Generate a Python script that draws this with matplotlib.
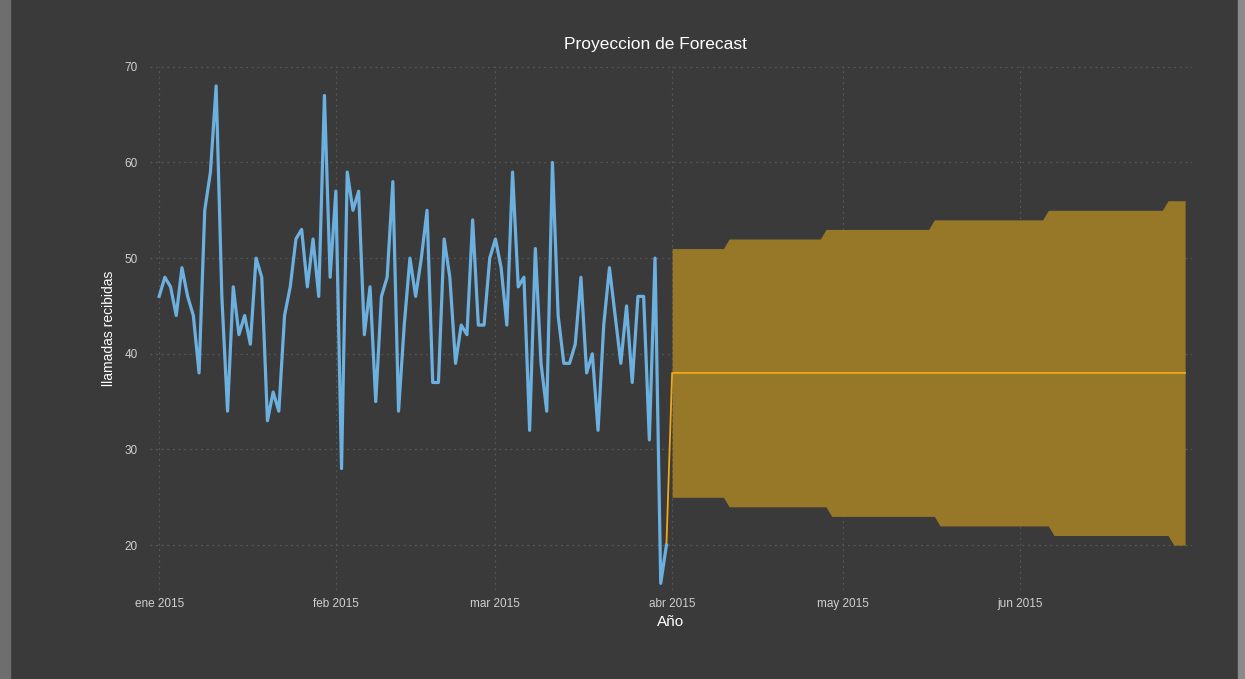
import numpy as np
import pandas as pd
import matplotlib
matplotlib.use("Agg")
import matplotlib.pyplot as plt
from matplotlib.patches import Rectangle

# observed daily calls, 1 Jan - 31 Mar 2015
llamadas = [46, 48, 47, 44, 49, 46, 44, 38, 55, 59, 68, 46, 34, 47, 42, 44, 41, 50, 48, 33,
            36, 34, 44, 47, 52, 53, 47, 52, 46, 67, 48,
            57, 28, 59, 55, 57, 42, 47, 35, 46, 48, 58, 34, 43, 50, 46, 50, 55, 37, 37, 52,
            48, 39, 43, 42, 54, 43, 43, 50,
            52, 49, 43, 59, 47, 48, 32, 51, 39, 34, 60, 44, 39, 39, 41, 48, 38, 40, 32, 43,
            49, 44, 39, 45, 37, 46, 46, 31, 50, 16, 20]

# forecast 1 Apr - 30 Jun 2015 (constant mean + interval steps)
forecast_val = 38
upper_steps = [(51, 10), (52, 17), (53, 19), (54, 20), (55, 21), (56, 4)]
lower_steps = [(25, 10), (24, 18), (23, 19), (22, 20), (21, 21), (20, 3)]

fechas = pd.date_range("2015-01-01", periods=len(llamadas), freq="D")
fechas_fc = pd.date_range("2015-04-01", "2015-06-30", freq="D")
upper = np.concatenate([[v] * n for v, n in upper_steps])
lower = np.concatenate([[v] * n for v, n in lower_steps])

bg = "#3a3a3a"
plt.rcParams["font.family"] = ["Liberation Sans", "DejaVu Sans"]

fig = plt.figure(figsize=(12.45, 6.79), dpi=100, facecolor=bg)
ax = fig.add_axes([0.1205, 0.131, 0.8369, 0.772])
ax.set_facecolor(bg)

# light frame strips on the sides
fig.patches.append(Rectangle((0, 0), 10 / 1245, 1, transform=fig.transFigure,
                             color="#6e6e6e", zorder=0))
fig.patches.append(Rectangle((1 - 7 / 1245, 0), 7 / 1245, 1, transform=fig.transFigure,
                             color="#8a8a8a", zorder=0))

ax.fill_between(fechas_fc, lower, upper, color="#977828", linewidth=0, zorder=2)
fc_x = [fechas[-1]] + list(fechas_fc)
fc_y = [llamadas[-1]] + [forecast_val] * len(fechas_fc)
ax.plot(fc_x, fc_y, color="#f0a818", linewidth=1.3, zorder=3)
ax.plot(fechas, llamadas, color="#6cb0e0", linewidth=2.3, zorder=4)

ax.set_xlim(pd.Timestamp("2015-01-01") - pd.Timedelta(days=1.6),
            pd.Timestamp("2015-06-30") + pd.Timedelta(days=1.2))
ax.set_ylim(15.3, 70.1)
ax.set_yticks([20, 30, 40, 50, 60, 70])

meses = ["ene 2015", "feb 2015", "mar 2015", "abr 2015", "may 2015", "jun 2015"]
ticks = pd.date_range("2015-01-01", periods=6, freq="MS")
ax.set_xticks(ticks)
ax.set_xticklabels(meses)

ax.grid(True, color="#585858", linestyle=(0, (1.5, 3)), linewidth=0.9, zorder=1)
for s in ax.spines.values():
    s.set_visible(False)
ax.tick_params(length=0, colors="#d0d0d0", labelsize=8.5)
ax.tick_params(axis="x", pad=6)
ax.tick_params(axis="y", pad=9)

ax.set_title("Proyeccion de Forecast", color="white", fontsize=12.5, pad=12, x=0.485)
ax.set_xlabel("Año", color="white", fontsize=11, labelpad=3)
ax.set_ylabel("llamadas recibidas", color="white", fontsize=10, labelpad=6)

fig.savefig("out.png", dpi=100, facecolor=bg)
